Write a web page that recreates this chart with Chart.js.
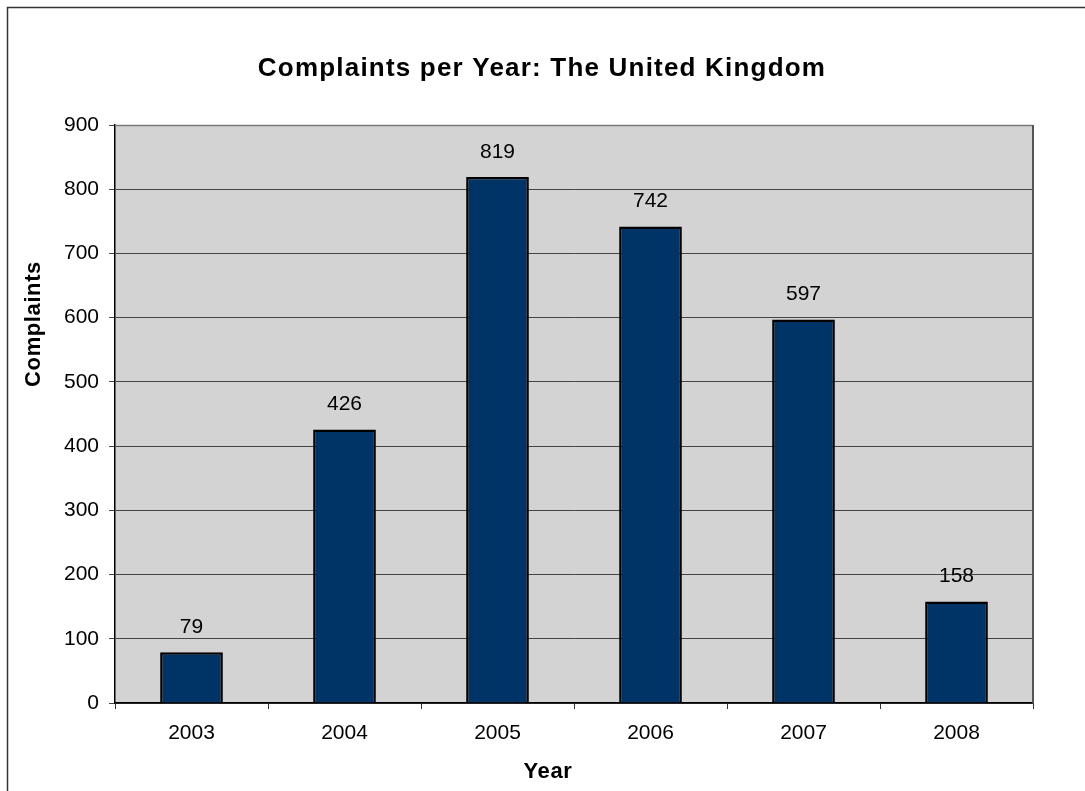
<!DOCTYPE html>
<html>
<head>
<meta charset="utf-8">
<script src="https://cdn.jsdelivr.net/npm/chart.js@4/dist/chart.umd.min.js"></script>
<style>
  html, body { margin: 0; padding: 0; background: #ffffff; }
  #wrap { width: 1085px; height: 791px; position: relative; }
</style>
</head>
<body>
<div id="wrap"><canvas id="c" width="1085" height="791"></canvas></div>
<script>
const chartTitle = 'Complaints per Year: The United Kingdom';
const xAxisTitle = 'Year';
const yAxisTitle = 'Complaints';
const years = ['2003', '2004', '2005', '2006', '2007', '2008'];
const complaints = [79, 426, 819, 742, 597, 158];
const yMin = 0;
const yMax = 900;
const yStep = 100;

const FONT = '"Liberation Sans", Arial, Helvetica, sans-serif';

const decor = {
  id: 'decor',
  beforeDraw(chart) {
    const ctx = chart.ctx;
    const a = chart.chartArea;
    ctx.save();
    ctx.fillStyle = '#ffffff';
    ctx.fillRect(0, 0, chart.width, chart.height);
    ctx.strokeStyle = '#333333';
    ctx.lineWidth = 1.5;
    ctx.strokeRect(7.5, 7.5, 1200, 1000);
    ctx.fillStyle = '#d3d3d3';
    ctx.fillRect(a.left, a.top, a.right - a.left, a.bottom - a.top);
    ctx.restore();
  },
  afterDraw(chart) {
    const ctx = chart.ctx;
    const a = chart.chartArea;
    ctx.save();
    ctx.strokeStyle = '#7a7a7a';
    ctx.lineWidth = 1.5;
    ctx.beginPath();
    ctx.moveTo(a.left, a.top + 0.5);
    ctx.lineTo(a.right, a.top + 0.5);
    ctx.stroke();
    ctx.strokeStyle = '#555555';
    ctx.lineWidth = 2;
    ctx.beginPath();
    ctx.moveTo(a.right, a.top);
    ctx.lineTo(a.right, a.bottom);
    ctx.stroke();

    ctx.fillStyle = '#000000';
    ctx.textAlign = 'center';
    ctx.textBaseline = 'middle';
    ctx.font = 'bold 26px ' + FONT;
    if ('letterSpacing' in ctx) ctx.letterSpacing = '1.2px';
    ctx.fillText(chartTitle, 542, 69);
    ctx.font = 'bold 22px ' + FONT;
    if ('letterSpacing' in ctx) ctx.letterSpacing = '0.6px';
    ctx.fillText(xAxisTitle, 548, 772);
    ctx.translate(34, 324);
    ctx.rotate(-Math.PI / 2);
    ctx.fillText(yAxisTitle, 0, 0);
    ctx.restore();
  },
  afterDatasetsDraw(chart) {
    const ctx = chart.ctx;
    const meta = chart.getDatasetMeta(0);
    ctx.save();
    ctx.fillStyle = '#000000';
    ctx.font = '21px ' + FONT;
    ctx.textAlign = 'center';
    ctx.textBaseline = 'middle';
    meta.data.forEach((bar, i) => {
      ctx.fillText(String(complaints[i]), bar.x, bar.y - 25);
    });
    ctx.restore();
  }
};

new Chart(document.getElementById('c'), {
  type: 'bar',
  data: {
    labels: years,
    datasets: [{
      data: complaints,
      backgroundColor: '#003366',
      borderColor: '#000000',
      borderWidth: 2.5,
      categoryPercentage: 1.0,
      barPercentage: 0.41
    }]
  },
  options: {
    responsive: false,
    devicePixelRatio: 1,
    animation: false,
    layout: { padding: { top: 125, right: 52, left: 0, bottom: 0 } },
    plugins: {
      legend: { display: false },
      tooltip: { enabled: false },
      title: { display: false }
    },
    scales: {
      x: {
        grid: {
          offset: true,
          drawOnChartArea: false,
          drawTicks: true,
          tickLength: 6,
          color: '#333333',
          lineWidth: 1
        },
        border: { display: true, color: '#000000', width: 1.5 },
        ticks: {
          color: '#000000',
          font: { family: FONT, size: 21 },
          padding: 12,
          maxRotation: 0
        },
        afterFit(scale) { scale.height = 88; }
      },
      y: {
        min: yMin,
        max: yMax,
        ticks: {
          stepSize: yStep,
          color: '#000000',
          font: { family: FONT, size: 21 },
          padding: 10
        },
        grid: {
          color: '#444444',
          lineWidth: 1,
          tickLength: 6
        },
        border: { display: true, color: '#000000', width: 1.5 },
        afterFit(scale) { scale.width = 115; }
      }
    }
  },
  plugins: [decor]
});
</script>
</body>
</html>
